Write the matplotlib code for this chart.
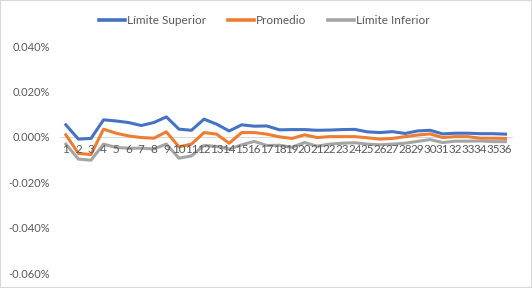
import numpy as np, matplotlib.pyplot as plt
from matplotlib.ticker import FuncFormatter
from matplotlib.patches import Rectangle

plt.rcParams['font.family'] = ['Lato', 'DejaVu Sans']

periodos = list(range(1, 37))
lim_sup = [0.0053, -0.0010, -0.0007, 0.0075, 0.0070, 0.0063, 0.0050, 0.0063, 0.0088, 0.0034,
           0.0029, 0.0078, 0.0056, 0.0026, 0.0053, 0.0047, 0.0048, 0.0031, 0.0032, 0.0032,
           0.0029, 0.0030, 0.0032, 0.0033, 0.0022, 0.0019, 0.0023, 0.0015, 0.0026, 0.0029,
           0.0013, 0.0016, 0.0016, 0.0014, 0.0014, 0.0012]
promedio = [0.0009, -0.0073, -0.0078, 0.0034, 0.0016, 0.0004, -0.0003, -0.0006, 0.0022, -0.0044,
            -0.0032, 0.0019, 0.0012, -0.0028, 0.0019, 0.0019, 0.0012, 0.0000, -0.0007, 0.0009,
            -0.0003, 0.0001, 0.0001, 0.0001, -0.0004, -0.0010, -0.0007, 0.0001, 0.0008, 0.0013,
            -0.0003, 0.0001, 0.0001, -0.0006, -0.0006, -0.0007]
lim_inf = [-0.0032, -0.0098, -0.0103, -0.0032, -0.0047, -0.0050, -0.0050, -0.0053, -0.0032, -0.0094,
           -0.0084, -0.0038, -0.0042, -0.0054, -0.0035, -0.0020, -0.0038, -0.0037, -0.0046, -0.0025,
           -0.0041, -0.0032, -0.0028, -0.0026, -0.0032, -0.0035, -0.0032, -0.0028, -0.0020, -0.0012,
           -0.0025, -0.0019, -0.0019, -0.0018, -0.0021, -0.0021]
series = [('Límite Superior', lim_sup, '#4472C4'),
          ('Promedio', promedio, '#ED7D31'),
          ('Límite Inferior', lim_inf, '#A5A5A5')]

fig = plt.figure(figsize=(5.32, 2.88), dpi=100)
fig.patches.append(Rectangle((0, 0), 1, 1, transform=fig.transFigure, fill=False,
                             edgecolor='#d9d9d9', lw=1.5))
ax = fig.add_axes([0.112, 0.052, 0.85, 0.788])
for name, vals, c in series:
    ax.plot(periodos, vals, color=c, lw=2.2, label=name, solid_joinstyle='round')

ax.set_axisbelow(False)
ax.set_xlim(0.5, 36.5); ax.set_ylim(-0.06, 0.04)
ax.set_yticks([-0.06, -0.04, -0.02, 0, 0.02, 0.04])
ax.yaxis.set_major_formatter(FuncFormatter(lambda v, p: f'{v:.3f}%'))
ax.set_xticks(periodos); ax.set_xticklabels([str(p) for p in periodos])
for s in ['top', 'right', 'left']: ax.spines[s].set_visible(False)
ax.spines['bottom'].set_position(('data', 0)); ax.spines['bottom'].set_color('#d9d9d9')
ax.spines['bottom'].set_zorder(1)
ax.tick_params(axis='both', length=0, colors='#595959', labelsize=8)
ax.tick_params(axis='x', pad=5, labelsize=8.4)
ax.tick_params(axis='y', pad=7)
leg = fig.legend(loc='upper center', bbox_to_anchor=(0.497, 0.985), ncol=3, frameon=False,
                 fontsize=8.5, labelcolor='#595959', handlelength=2.2, handletextpad=0.2,
                 columnspacing=1.8)
for h in leg.legend_handles: h.set_linewidth(2.6)
plt.savefig('out.png', dpi=100)
